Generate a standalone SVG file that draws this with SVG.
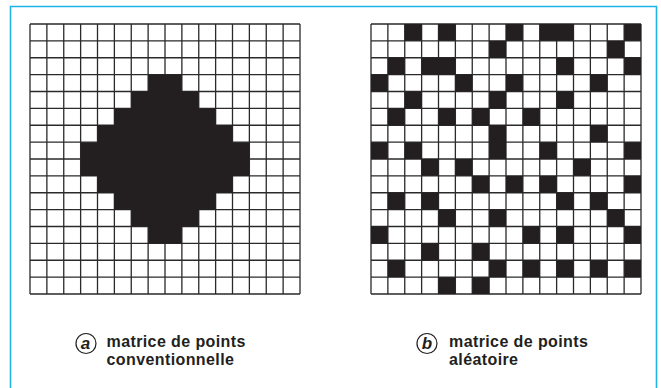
<svg xmlns="http://www.w3.org/2000/svg" xmlns:xlink="http://www.w3.org/1999/xlink" width="661" height="388" viewBox="0 0 661 388">
  <style>
    .cell { fill: #231f20; }
    .grid { fill: none; stroke: #2a2a2a; stroke-width: 1.3; vector-effect: non-scaling-stroke; }
    .lbl { font-family: "Liberation Sans", Arial, sans-serif; font-weight: bold; font-size: 16px; letter-spacing: 0.4px; fill: #231f20; }
    .tag { font-family: "Liberation Sans", Arial, sans-serif; font-weight: bold; font-style: italic; font-size: 17px; fill: #231f20; text-anchor: middle; }
    .ring { fill: none; stroke: #231f20; stroke-width: 1.2; }
    .frame { fill: none; stroke: #1fb3e6; stroke-width: 1.6; }
  </style>
  <defs>
    <path id="gridlines" class="grid" d="M0 0V16M1 0V16M2 0V16M3 0V16M4 0V16M5 0V16M6 0V16M7 0V16M8 0V16M9 0V16M10 0V16M11 0V16M12 0V16M13 0V16M14 0V16M15 0V16M16 0V16M0 0H16M0 1H16M0 2H16M0 3H16M0 4H16M0 5H16M0 6H16M0 7H16M0 8H16M0 9H16M0 10H16M0 11H16M0 12H16M0 13H16M0 14H16M0 15H16M0 16H16"/>
  </defs>
  <rect width="661" height="388" fill="#ffffff"/>
  <path class="frame" d="M10.5 388V6.5H656.5V388"/>

  <g id="panel-a">
    <g transform="translate(30,24) scale(16.875)">
      <rect x="0" y="0" width="16" height="16" fill="#ffffff"/>
      <use xlink:href="#gridlines"/>
      <path class="cell" d="M7 3H9V4H10V5H11V6H12V7H13V9H12V10H11V11H10V12H9V13H7V12H6V11H5V10H4V9H3V7H4V6H5V5H6V4H7Z"/>
    </g>
    <circle class="ring" cx="86" cy="343.5" r="10"/>
    <text class="tag" x="85.5" y="349">a</text>
    <text class="lbl" x="106.5" y="347">matrice de points</text>
    <text class="lbl" x="106.5" y="365">conventionnelle</text>
  </g>

  <g id="panel-b">
    <g transform="translate(371,24) scale(16.875)">
      <rect x="0" y="0" width="16" height="16" fill="#ffffff"/>
      <use xlink:href="#gridlines"/>
      <g class="cell">
        <rect x="2" y="0" width="1" height="1"/><rect x="4" y="0" width="1" height="1"/><rect x="8" y="0" width="1" height="1"/><rect x="10" y="0" width="2" height="1"/><rect x="15" y="0" width="1" height="1"/>
        <rect x="7" y="1" width="1" height="1"/><rect x="14" y="1" width="1" height="1"/>
        <rect x="1" y="2" width="1" height="1"/><rect x="3" y="2" width="2" height="1"/><rect x="11" y="2" width="1" height="1"/><rect x="15" y="2" width="1" height="1"/>
        <rect x="0" y="3" width="1" height="1"/><rect x="5" y="3" width="1" height="1"/><rect x="8" y="3" width="1" height="1"/><rect x="13" y="3" width="1" height="1"/>
        <rect x="2" y="4" width="1" height="1"/><rect x="7" y="4" width="1" height="1"/><rect x="11" y="4" width="1" height="1"/>
        <rect x="1" y="5" width="1" height="1"/><rect x="4" y="5" width="1" height="1"/><rect x="6" y="5" width="1" height="1"/><rect x="9" y="5" width="1" height="1"/>
        <rect x="7" y="6" width="1" height="2"/><rect x="13" y="6" width="1" height="1"/>
        <rect x="0" y="7" width="1" height="1"/><rect x="2" y="7" width="1" height="1"/><rect x="10" y="7" width="1" height="1"/><rect x="15" y="7" width="1" height="1"/>
        <rect x="3" y="8" width="1" height="1"/><rect x="5" y="8" width="1" height="1"/><rect x="12" y="8" width="1" height="1"/>
        <rect x="6" y="9" width="1" height="1"/><rect x="8" y="9" width="1" height="1"/><rect x="10" y="9" width="1" height="1"/><rect x="15" y="9" width="1" height="1"/>
        <rect x="1" y="10" width="1" height="1"/><rect x="3" y="10" width="1" height="1"/><rect x="11" y="10" width="1" height="1"/><rect x="13" y="10" width="1" height="1"/>
        <rect x="4" y="11" width="1" height="1"/><rect x="7" y="11" width="1" height="1"/><rect x="14" y="11" width="1" height="1"/>
        <rect x="0" y="12" width="1" height="1"/><rect x="9" y="12" width="1" height="1"/><rect x="11" y="12" width="1" height="1"/><rect x="15" y="12" width="1" height="1"/>
        <rect x="3" y="13" width="1" height="1"/><rect x="6" y="13" width="1" height="1"/>
        <rect x="1" y="14" width="1" height="1"/><rect x="7" y="14" width="1" height="1"/><rect x="9" y="14" width="1" height="1"/><rect x="11" y="14" width="1" height="1"/><rect x="13" y="14" width="1" height="1"/><rect x="15" y="14" width="1" height="1"/>
        <rect x="4" y="15" width="1" height="1"/><rect x="6" y="15" width="1" height="1"/>
      </g>
    </g>
    <circle class="ring" cx="427" cy="343.5" r="10"/>
    <text class="tag" x="427" y="349">b</text>
    <text class="lbl" x="449" y="347">matrice de points</text>
    <text class="lbl" x="449" y="365">aléatoire</text>
  </g>
</svg>
